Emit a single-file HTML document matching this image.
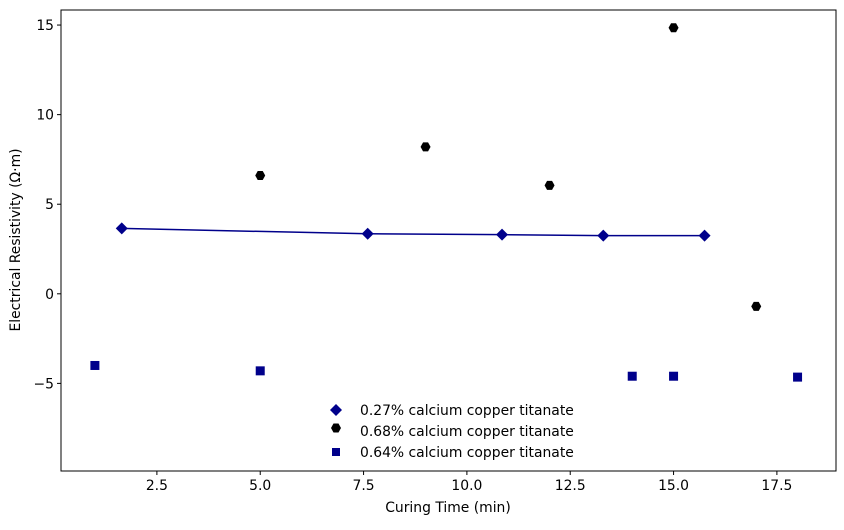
<!DOCTYPE html>
<html><head><meta charset="utf-8"><style>
body{margin:0;background:#fff;font-family:"Liberation Sans","DejaVu Sans",sans-serif;}
svg text{font-family:"DejaVu Sans","Liberation Sans",sans-serif;font-size:13.9px;fill:#000;}
</style></head><body>
<svg id="chart" width="844" height="525" xmlns="http://www.w3.org/2000/svg">
<rect width="844" height="525" fill="#fff"/>
<g id="marks"></g>
<rect x="61" y="10" width="775" height="461" fill="none" stroke="#000" stroke-width="1"/>
<g id="axes"></g>
<text x="448" y="512" text-anchor="middle">Curing Time (min)</text>
<text transform="translate(20,240) rotate(-90)" text-anchor="middle">Electrical Resistivity (Ω·m)</text>
<g>
<polygon points="336,404 342,410 336,416 330,410" fill="#00008b"/>
<text x="360" y="415">0.27% calcium copper titanate</text>
<polygon points="331,428 333.5,423.5 338.5,423.5 341,428 338.5,432.5 333.5,432.5" fill="#000"/>
<text x="360" y="436">0.68% calcium copper titanate</text>
<rect x="332" y="448" width="8" height="8" fill="#00008b"/>
<text x="360" y="457">0.64% calcium copper titanate</text>
</g>
</svg>
<script>
const diamondX=[1.65,7.6,10.85,13.3,15.75];
const diamondY=[3.65,3.35,3.3,3.25,3.25];
const hexX=[5,9,12,15,17];
const hexY=[6.6,8.2,6.05,14.85,-0.7];
const squareX=[1,5,14,15,18];
const squareY=[-4.0,-4.3,-4.6,-4.6,-4.65];
const xTicks=[2.5,5.0,7.5,10.0,12.5,15.0,17.5];
const xTickLabels=["2.5","5.0","7.5","10.0","12.5","15.0","17.5"];
const yTicks=[-5,0,5,10,15];
const yTickLabels=["−5","0","5","10","15"];
const NS="http://www.w3.org/2000/svg";
const X0=61,X1=836,Y0=10,Y1=471,xmin=0.18,xmax=18.93,ymin=-9.89,ymax=15.84;
function sx(v){return X0+(v-xmin)/(xmax-xmin)*(X1-X0);}
function sy(v){return Y1-(v-ymin)/(ymax-ymin)*(Y1-Y0);}
function mk(tag,attrs,parent){const e=document.createElementNS(NS,tag);for(const k in attrs)e.setAttribute(k,attrs[k]);parent.appendChild(e);return e;}
const marks=document.getElementById('marks'),axes=document.getElementById('axes');
const line=mk('polyline',{points:diamondX.map((x,i)=>sx(x)+','+sy(diamondY[i])).join(' '),fill:'none',stroke:'#00008b','stroke-width':1.5},marks);


diamondX.forEach((x,i)=>{const cx=sx(x),cy=sy(diamondY[i]);
const p=mk('polygon',{points:`${cx},${cy-6} ${cx+6},${cy} ${cx},${cy+6} ${cx-6},${cy}`,fill:'#00008b'},marks);

});
hexX.forEach((x,i)=>{const cx=sx(x),cy=sy(hexY[i]);
const p=mk('polygon',{points:`${cx-5},${cy} ${cx-2.5},${cy-4.5} ${cx+2.5},${cy-4.5} ${cx+5},${cy} ${cx+2.5},${cy+4.5} ${cx-2.5},${cy+4.5}`,fill:'#000'},marks);

});
squareX.forEach((x,i)=>{const cx=sx(x),cy=sy(squareY[i]);
const p=mk('rect',{x:cx-4.5,y:cy-4.5,width:9,height:9,fill:'#00008b'},marks);

});
xTicks.forEach((t,i)=>{const x=sx(t);
const l=mk('line',{x1:x,x2:x,y1:Y1,y2:Y1+4,stroke:'#000'},axes);


const tx=mk('text',{x:x,y:Y1+19,'text-anchor':'middle'},axes);tx.textContent=xTickLabels[i];

});
yTicks.forEach((t,i)=>{const y=sy(t);
const l=mk('line',{x1:X0-4,x2:X0,y1:y,y2:y,stroke:'#000'},axes);


const tx=mk('text',{x:X0-7,y:y+5,'text-anchor':'end'},axes);tx.textContent=yTickLabels[i];

});
</script>
</body></html>
